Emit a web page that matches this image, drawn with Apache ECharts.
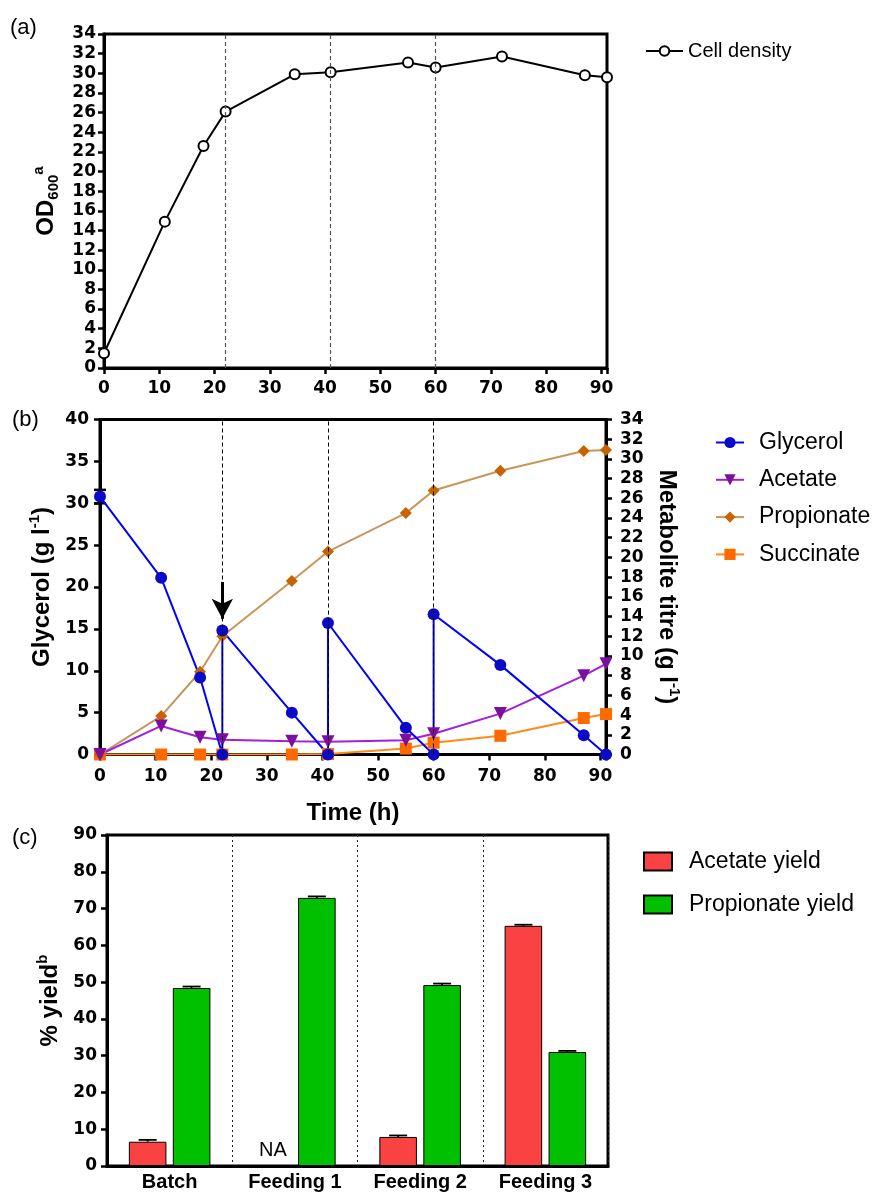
<!DOCTYPE html>
<html><head><meta charset="utf-8">
<script src="https://cdn.jsdelivr.net/npm/echarts@6/dist/echarts.min.js"></script>
<style>html,body{margin:0;padding:0;background:#fff}#chart{width:874px;height:1192px}</style>
</head><body><div id="chart"></div>
<script>
// ---------- DATA ----------
// Panel (a): cell density
const timeA = [0, 11, 18, 22, 34.5, 41, 55, 60, 72, 87, 91];
const cellDensity = [1.5, 14.9, 22.6, 26.1, 29.9, 30.1, 31.1, 30.6, 31.7, 29.8, 29.6];

// Panel (b): glycerol (left axis) with feeding jumps
const glycerolTime = [0, 11, 18, 22, 22, 34.5, 41, 41, 55, 60, 60, 72, 87, 91];
const glycerol = [30.8, 21.1, 9.2, 0, 14.8, 5.0, 0, 15.7, 3.2, 0, 16.75, 10.7, 2.3, 0];
const glycerolErrStart = 0.8;
// metabolites (right axis)
const timeB = [0, 11, 18, 22, 34.5, 41, 55, 60, 72, 87, 91];
const acetate = [0, 2.9, 1.75, 1.5, 1.35, 1.3, 1.45, 2.1, 4.15, 8.0, 9.2];
const propionate = [0, 3.9, 8.4, 12.0, 17.6, 20.6, 24.5, 26.8, 28.8, 30.8, 30.9];
const succinate = [0, 0, 0, 0, 0, 0.05, 0.6, 1.2, 1.9, 3.7, 4.1];
const feedTimes = [22, 41, 60];
const arrowFrom = [22, 20.6];
const arrowTo = [22, 16.2];

// Panel (c): yields
const phases = ['Batch', 'Feeding 1', 'Feeding 2', 'Feeding 3'];
const acetateYield = [6.6, null, 7.9, 65.3];
const acetateYieldErr = [0.5, null, 0.4, 0.3];
const propionateYield = [48.4, 72.9, 49.2, 31.0];
const propionateYieldErr = [0.4, 0.4, 0.4, 0.3];

const xTicksA = { min: 0, max: 91, interval: 10 };
const yTicksA = { min: 0, max: 34, interval: 2 };
const yTicksBLeft = { min: 0, max: 40, interval: 5 };
const yTicksBRight = { min: 0, max: 34, interval: 2 };
const yTicksC = { min: 0, max: 90, interval: 10 };

// ---------- STYLE ----------
const FONT = 'Liberation Sans';
const tickLabel = { fontFamily: 'DejaVu Sans', fontWeight: 'bold', fontSize: 17, color: '#000' };
const axisLine = { show: true, onZero: false, lineStyle: { color: '#000', width: 3 } };
const axisTick = { show: true, inside: false, length: 6, lineStyle: { color: '#000', width: 2.5 } };
const nameRich = {
  b: { fontFamily: FONT, fontWeight: 'bold', fontSize: 24, color: '#000', lineHeight: 30 },
  sub: { fontFamily: FONT, fontWeight: 'bold', fontSize: 15, color: '#000', lineHeight: 24, verticalAlign: 'bottom' },
  sup: { fontFamily: FONT, fontWeight: 'bold', fontSize: 15, color: '#000', lineHeight: 18, verticalAlign: 'top' }
};
const BAR_FRAC = 0.3, GAP_FRAC = 0.17;

const chart = echarts.init(document.getElementById('chart'), null, { renderer: 'canvas' });

const acetateBarData = acetateYield.map(v => v == null
  ? { value: 0, itemStyle: { borderWidth: 0 }, label: { show: true, formatter: 'NA', position: 'top', distance: 6, color: '#000', fontFamily: FONT, fontSize: 20 } }
  : v);

const errC = [];
phases.forEach((p, i) => {
  if (acetateYield[i] != null) errC.push([i, acetateYield[i], acetateYieldErr[i], -1]);
  errC.push([i, propionateYield[i], propionateYieldErr[i], 1]);
});

function valueAxisY(grid, ticks, extra) {
  return Object.assign({
    gridIndex: grid, type: 'value', min: ticks.min, max: ticks.max, interval: ticks.interval,
    axisLine, axisTick, splitLine: { show: false },
    axisLabel: Object.assign({}, tickLabel, { margin: 8 })
  }, extra);
}

const option = {
  backgroundColor: '#fff',
  animation: false,
  textStyle: { fontFamily: FONT },
  graphic: [
    { type: 'text', left: 10, top: 17, style: { text: '(a)', fontFamily: FONT, fontSize: 22, fill: '#000' } },
    { type: 'text', left: 12, top: 409, style: { text: '(b)', fontFamily: FONT, fontSize: 22, fill: '#000' } },
    { type: 'text', left: 12, top: 827, style: { text: '(c)', fontFamily: FONT, fontSize: 22, fill: '#000' } }
  ],
  grid: [
    { left: 104, top: 34, width: 503, height: 334, show: true, borderColor: '#000', borderWidth: 3, outerBoundsMode: 'none', containLabel: false },
    { left: 100, top: 419.5, width: 506, height: 335, show: true, borderColor: '#000', borderWidth: 3, outerBoundsMode: 'none', containLabel: false },
    { left: 107, top: 835, width: 501, height: 331, show: true, borderColor: '#000', borderWidth: 3, outerBoundsMode: 'none', containLabel: false }
  ],
  legend: [
    { data: ['Cell density'], left: 645, top: 41, padding: 0, orient: 'vertical', selectedMode: false,
      itemWidth: 37, itemHeight: 12, textStyle: { fontFamily: FONT, fontSize: 20, color: '#000' } },
    { data: ['Glycerol', 'Acetate', 'Propionate', 'Succinate'], left: 715, top: 431, padding: 0, orient: 'vertical', selectedMode: false,
      itemWidth: 28, itemHeight: 14, itemGap: 14.3, textStyle: { fontFamily: FONT, fontSize: 23, color: '#000', padding: [0, 0, 0, 10] } },
    { data: ['Acetate yield', 'Propionate yield'], left: 643, top: 850, padding: 0, orient: 'vertical', selectedMode: false,
      icon: 'rect', itemWidth: 28, itemHeight: 18, itemGap: 20, textStyle: { fontFamily: FONT, fontSize: 23, color: '#000', padding: [0, 0, 0, 12] } }
  ],
  xAxis: [
    { gridIndex: 0, type: 'value', min: xTicksA.min, max: xTicksA.max, interval: xTicksA.interval,
      axisLine, axisTick, splitLine: { show: false },
      axisLabel: Object.assign({}, tickLabel, { margin: 12, formatter: v => (v % 10 === 0 ? String(v) : '') }) },
    { gridIndex: 1, type: 'value', min: xTicksA.min, max: xTicksA.max, interval: xTicksA.interval,
      axisLine, axisTick, splitLine: { show: false },
      axisLabel: Object.assign({}, tickLabel, { margin: 14, formatter: v => (v % 10 === 0 ? String(v) : '') }),
      name: 'Time (h)', nameLocation: 'middle', nameGap: 47,
      nameTextStyle: { fontFamily: FONT, fontWeight: 'bold', fontSize: 24, color: '#000' } },
    { gridIndex: 2, type: 'category', data: phases, axisLine, axisTick: { show: false },
      axisLabel: { fontFamily: FONT, fontWeight: 'bold', fontSize: 20, color: '#000', margin: 6, interval: 0 },
      splitLine: { show: true, interval: 0, lineStyle: { color: '#222', width: 1, type: [2, 3] } } }
  ],
  yAxis: [
    valueAxisY(0, yTicksA, { axisLabel: Object.assign({}, tickLabel, { margin: 8 }),
      name: '{b|OD}{sub|600}{sup|a}', nameLocation: 'middle', nameRotate: 90, nameGap: 42,
      nameTextStyle: { rich: nameRich } }),
    valueAxisY(1, yTicksBLeft, { axisLabel: Object.assign({}, tickLabel, { margin: 11 }),
      name: '{b|Glycerol (g l}{sup|-1}{b|)}', nameLocation: 'middle', nameRotate: 90, nameGap: 40,
      nameTextStyle: { rich: nameRich } }),
    valueAxisY(1, yTicksBRight, { position: 'right', axisLabel: Object.assign({}, tickLabel, { margin: 14 }),
      name: '{b|Metabolite titre (g l}{sup|-1}{b|)}', nameLocation: 'middle', nameRotate: -90, nameGap: 45,
      nameTextStyle: { rich: nameRich } }),
    valueAxisY(2, yTicksC, { axisLabel: Object.assign({}, tickLabel, { margin: 10 }),
      name: '{b|% yield}{sup|b}', nameLocation: 'middle', nameRotate: 90, nameGap: 41,
      nameTextStyle: { rich: nameRich } })
  ],
  series: [
    // ---- (a)
    { name: 'Cell density', type: 'line', xAxisIndex: 0, yAxisIndex: 0,
      data: timeA.map((t, i) => [t, cellDensity[i]]),
      symbol: 'circle', symbolSize: 10,
      itemStyle: { color: '#fff', borderColor: '#000', borderWidth: 2 },
      lineStyle: { color: '#000', width: 2 },
      markLine: { silent: true, symbol: ['none', 'none'], label: { show: false },
        lineStyle: { color: '#555', width: 1.2, type: [4, 3] },
        data: feedTimes.map(t => ({ xAxis: t })) } },
    // ---- (b)
    { name: 'glyErr', type: 'custom', xAxisIndex: 1, yAxisIndex: 1, z: 1, silent: true,
      data: [[glycerolTime[0], glycerol[0], glycerolErrStart]],
      renderItem: (params, api) => {
        const x = api.coord([api.value(0), api.value(1)])[0];
        const yHi = api.coord([api.value(0), api.value(1) + api.value(2)])[1];
        const yLo = api.coord([api.value(0), api.value(1) - api.value(2)])[1];
        const st = { stroke: '#000', lineWidth: 2.5 };
        return { type: 'group', children: [
          { type: 'line', shape: { x1: x, y1: yLo, x2: x, y2: yHi }, style: st },
          { type: 'line', shape: { x1: x - 6, y1: yHi, x2: x + 6, y2: yHi }, style: st },
          { type: 'line', shape: { x1: x - 6, y1: yLo, x2: x + 6, y2: yLo }, style: st }
        ] };
      } },
    { name: 'Succinate', type: 'line', xAxisIndex: 1, yAxisIndex: 2,
      data: timeB.map((t, i) => [t, succinate[i]]),
      symbol: 'rect', symbolSize: 12,
      itemStyle: { color: '#ff6a00' }, lineStyle: { color: '#ff8a1a', width: 2 } },
    { name: 'Propionate', type: 'line', xAxisIndex: 1, yAxisIndex: 2,
      data: timeB.map((t, i) => [t, propionate[i]]),
      symbol: 'diamond', symbolSize: 12,
      itemStyle: { color: '#c86400' }, lineStyle: { color: '#c8965a', width: 2 } },
    { name: 'Acetate', type: 'line', xAxisIndex: 1, yAxisIndex: 2,
      data: timeB.map((t, i) => [t, acetate[i]]),
      symbol: 'triangle', symbolRotate: 180, symbolSize: 13,
      itemStyle: { color: '#7d0f9e' }, lineStyle: { color: '#a21fdc', width: 2 } },
    { name: 'Glycerol', type: 'line', xAxisIndex: 1, yAxisIndex: 1,
      data: glycerolTime.map((t, i) => [t, glycerol[i]]),
      symbol: 'circle', symbolSize: 12,
      itemStyle: { color: '#0a0ac8' }, lineStyle: { color: '#0000ff', width: 2 },
      markLine: { silent: true, symbol: ['none', 'none'], label: { show: false },
        lineStyle: { color: '#000', width: 1, type: [4, 3] },
        data: feedTimes.map(t => ({ xAxis: t })).concat([[
          { coord: arrowFrom, symbol: 'none', lineStyle: { color: '#000', width: 3, type: 'solid' } },
          { coord: arrowTo, symbol: 'arrow', symbolSize: [16, 20], lineStyle: { color: '#000', width: 3, type: 'solid' } }
        ]]) } },
    // ---- (c)
    { name: 'Acetate yield', type: 'bar', xAxisIndex: 2, yAxisIndex: 3,
      data: acetateBarData, barWidth: (BAR_FRAC * 100) + '%', barGap: (GAP_FRAC * 100) + '%',
      itemStyle: { color: '#fa4242', borderColor: '#000', borderWidth: 1 } },
    { name: 'Propionate yield', type: 'bar', xAxisIndex: 2, yAxisIndex: 3,
      data: propionateYield, barWidth: (BAR_FRAC * 100) + '%', barGap: (GAP_FRAC * 100) + '%',
      itemStyle: { color: '#00c000', borderColor: '#000', borderWidth: 1 } },
    { name: 'yieldErr', type: 'custom', xAxisIndex: 2, yAxisIndex: 3, z: 5, silent: true,
      data: errC,
      renderItem: (params, api) => {
        const i = api.value(0), v = api.value(1), e = api.value(2), side = api.value(3);
        const band = api.size([1, 0])[0];
        const bw = band * BAR_FRAC, gap = bw * GAP_FRAC;
        const cx = api.coord([i, 0])[0] + side * (bw + gap) / 2;
        const yTop = api.coord([i, v + e])[1];
        const yBase = api.coord([i, v])[1];
        const st = { stroke: '#000', lineWidth: 1.8 };
        return { type: 'group', children: [
          { type: 'line', shape: { x1: cx, y1: yBase, x2: cx, y2: yTop }, style: st },
          { type: 'line', shape: { x1: cx - 9, y1: yTop, x2: cx + 9, y2: yTop }, style: st }
        ] };
      } }
  ]
};
chart.setOption(option);
</script></body></html>
